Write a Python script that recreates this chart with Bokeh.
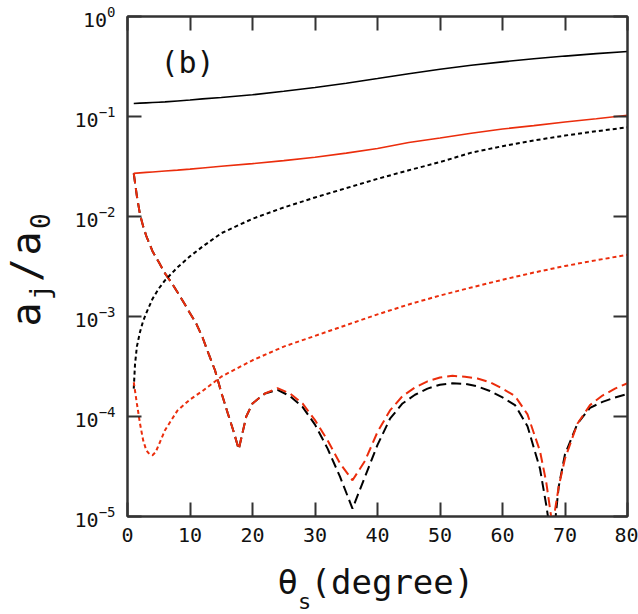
import math
from bokeh.plotting import figure
from bokeh.layouts import row, column
from bokeh.models import (Range1d, FixedTicker, LinearAxis, LogAxis, Label,
                          LogTickFormatter)
from bokeh.core.properties import value
from bokeh.embed import file_html
from bokeh.resources import INLINE

# ---------------- data ----------------
x_solid = [1, 2, 3, 4, 5, 6, 8, 10, 12, 15, 20, 25, 30, 35, 40, 45, 50, 55, 60, 65, 70, 75, 80]
black_solid = [0.135, 0.136, 0.137, 0.138, 0.139, 0.140, 0.143, 0.146, 0.150, 0.155, 0.165,
               0.179, 0.195, 0.215, 0.240, 0.268, 0.297, 0.325, 0.352, 0.378, 0.402, 0.425, 0.447]
red_solid = [0.0270, 0.0273, 0.0276, 0.0279, 0.0282, 0.0285, 0.0291, 0.0298, 0.0306, 0.0318,
             0.0338, 0.0362, 0.0392, 0.0430, 0.0478, 0.0550, 0.0610, 0.0680, 0.0750, 0.0810,
             0.0880, 0.0950, 0.1030]

x_black_dot = [1, 1.2, 1.5, 2, 2.5, 3, 4, 5, 6, 8, 10, 12, 15, 20, 25, 30, 35, 40, 45, 50,
               55, 60, 65, 70, 75, 80]
black_dot = [1.9e-4, 3.3e-4, 5.0e-4, 7.0e-4, 9.0e-4, 1.08e-3, 1.5e-3, 1.9e-3, 2.3e-3, 3.1e-3,
             4.0e-3, 5.0e-3, 6.8e-3, 9.5e-3, 0.0123, 0.0155, 0.0192, 0.0238, 0.0290, 0.0350,
             0.0435, 0.0505, 0.0575, 0.0645, 0.0712, 0.0780]

x_red_dot = [1, 1.5, 2, 2.5, 3, 3.5, 4, 4.5, 5, 6, 8, 10, 12, 15, 20, 25, 30, 35, 40, 45, 50,
             55, 60, 65, 70, 75, 80]
red_dot = [2.2e-4, 1.35e-4, 8.5e-5, 5.8e-5, 4.6e-5, 4.2e-5, 4.1e-5, 4.4e-5, 5.2e-5, 7.3e-5,
           1.15e-4, 1.48e-4, 1.8e-4, 2.5e-4, 3.65e-4, 5.0e-4, 6.4e-4, 8.2e-4, 1.05e-3, 1.32e-3,
           1.62e-3, 1.95e-3, 2.33e-3, 2.75e-3, 3.2e-3, 3.65e-3, 4.15e-3]

x_dash = [1, 1.5, 2, 2.5, 3, 4, 5, 6, 7, 8, 9, 10, 11, 12, 13, 14, 15, 16, 17, 17.8, 19, 20,
          22, 24, 26, 28, 30, 32, 34, 36, 38, 40, 42, 44, 46, 48, 50, 52, 54, 56, 58, 60, 62,
          64, 66, 67, 68, 69, 70, 72, 74, 76, 78, 80]
red_dash = [0.027, 0.016, 0.0105, 0.0080, 0.0064, 0.0045, 0.0035, 0.0027, 0.0022, 0.00175,
            0.00138, 0.00108, 8.5e-4, 6.2e-4, 4.2e-4, 2.9e-4, 1.75e-4, 1.1e-4, 7.0e-5, 4.7e-5,
            1.0e-4, 1.35e-4, 1.7e-4, 1.92e-4, 1.7e-4, 1.35e-4, 9.2e-5, 5.8e-5, 3.4e-5, 2.3e-5,
            3.6e-5, 7.0e-5, 1.15e-4, 1.6e-4, 1.95e-4, 2.25e-4, 2.45e-4, 2.55e-4, 2.5e-4, 2.4e-4,
            2.2e-4, 1.9e-4, 1.6e-4, 1.05e-4, 4.5e-5, 2.2e-5, 8.0e-6, 2.0e-5, 3.8e-5, 8.5e-5,
            1.3e-4, 1.62e-4, 1.9e-4, 2.15e-4]
black_dash = [0.027, 0.016, 0.0105, 0.0080, 0.0064, 0.0045, 0.0035, 0.0027, 0.0022, 0.00175,
              0.00138, 0.00108, 8.5e-4, 6.2e-4, 4.2e-4, 2.9e-4, 1.75e-4, 1.1e-4, 7.0e-5, 4.7e-5,
              1.0e-4, 1.35e-4, 1.7e-4, 1.85e-4, 1.6e-4, 1.25e-4, 8.3e-5, 4.8e-5, 2.5e-5, 1.2e-5,
              2.5e-5, 5.2e-5, 9.5e-5, 1.35e-4, 1.65e-4, 1.9e-4, 2.08e-4, 2.15e-4, 2.12e-4, 2.0e-4,
              1.8e-4, 1.55e-4, 1.3e-4, 8.0e-5, 3.0e-5, 1.3e-5, 5.0e-6, 2.0e-5, 4.2e-5, 8.5e-5,
              1.22e-4, 1.4e-4, 1.55e-4, 1.68e-4]

x_ticks = [0, 10, 20, 30, 40, 50, 60, 70, 80]
y_ticks = [1e-5, 1e-4, 1e-3, 1e-2, 1e-1, 1e0]

panel_label = "(b)"
x_title = ["θ", "s", "(degree)"]
y_title = ["a", "j", "/", "a", "0"]

# ---------------- styling ----------------
FONT = "DejaVu Sans Mono"
RED = "#eb2d0c"
AX = "#333333"
TXT = "#111111"
X0, X1, Y0, Y1 = 0.0, 80.0, 1e-5, 1.0
W, H = 638, 614
LEFT_W = 64          # strip holding the y title
MAIN_H = 560         # main figure height; the strip below holds the x title
BASE_SHIFT = 0.31    # measured offset of drawn baseline vs. anchor (fraction of font size)

p = figure(width=W - LEFT_W, height=MAIN_H, frame_width=500, frame_height=500,
           y_axis_type="log", output_backend="svg", toolbar_location=None, title=None,
           x_range=Range1d(X0, X1), y_range=Range1d(Y0, Y1),
           min_border_left=127 - LEFT_W, min_border_right=11, min_border_top=16,
           min_border_bottom=MAIN_H - 516)
p.grid.visible = False
p.outline_line_color = AX
p.outline_line_width = 2
p.background_fill_color = "white"
p.border_fill_color = "white"

def style_axis(ax, labels=True):
    ax.axis_line_color = AX
    ax.axis_line_width = 2
    ax.major_tick_line_color = AX
    ax.major_tick_line_width = 2
    ax.major_tick_in = 14
    ax.major_tick_out = 0
    ax.minor_tick_in = 0
    ax.minor_tick_out = 0
    ax.minor_tick_line_color = None
    ax.major_label_text_font = FONT
    if labels:
        ax.major_label_text_color = TXT
        ax.major_label_text_font_size = "20px"
    else:
        ax.major_label_text_color = None
        ax.major_label_text_font_size = "1px"
        ax.major_label_standoff = 0

xax = p.xaxis[0]
xax.ticker = FixedTicker(ticks=x_ticks, minor_ticks=[])
style_axis(xax)
xax.major_label_standoff = 11

yax = p.yaxis[0]
yax.ticker = FixedTicker(ticks=y_ticks, minor_ticks=[])
yax.formatter = LogTickFormatter()
style_axis(yax)
yax.major_label_standoff = 12

top = LinearAxis(ticker=FixedTicker(ticks=x_ticks, minor_ticks=[]))
style_axis(top, labels=False)
p.add_layout(top, "above")
right = LogAxis(ticker=FixedTicker(ticks=y_ticks, minor_ticks=[]))
style_axis(right, labels=False)
p.add_layout(right, "right")

# ---------------- curves ----------------
p.line(x_dash, black_dash, line_color="black", line_width=2, line_dash="10 5")
p.line(x_dash, red_dash, line_color=RED, line_width=2, line_dash="10 5")
p.line(x_black_dot, black_dot, line_color="black", line_width=2, line_dash="4 3")
p.line(x_red_dot, red_dot, line_color=RED, line_width=2, line_dash="4 3")
p.line(x_solid, black_solid, line_color="black", line_width=1.6)
p.line(x_solid, red_solid, line_color=RED, line_width=1.6)

# panel label inside the frame (position in px from frame bottom-left)
def frame_to_data(sx, sy):
    return (X0 + sx * (X1 - X0) / 500.0,
            10 ** (math.log10(Y0) + sy * (math.log10(Y1) - math.log10(Y0)) / 500.0))

bx, by = frame_to_data(33, 454)
p.add_layout(Label(text=panel_label, x=bx, y=by, text_font=FONT, text_font_size="30px",
                   text_color=TXT, text_align="left", text_baseline="alphabetic"))

# ---------------- title strips (pixel coordinate spaces) ----------------
def blank_fig(w, h):
    f = figure(width=w, height=h, frame_width=w, frame_height=h,
               x_range=Range1d(0, w), y_range=Range1d(0, h), title=None,
               output_backend="svg", toolbar_location=None,
               x_axis_location=None, y_axis_location=None,
               min_border=0, min_border_left=0, min_border_right=0,
               min_border_top=0, min_border_bottom=0)
    f.grid.visible = False
    f.outline_line_color = None
    f.background_fill_color = "white"
    f.border_fill_color = "white"
    return f

# bottom strip spans the full page width: x = page x, y measured up from page bottom
xf = blank_fig(W, H - MAIN_H)
BIGX, SMALLX = 34, 22
px_list = [277.0, 297.5, 310.0]          # left edge of each piece (page px)
base_list = [592.0, 608.0, 592.0]        # wanted baseline (page px)
sz_list = [BIGX, SMALLX, BIGX]
for t, pxv, pyv, sz in zip(x_title, px_list, base_list, sz_list):
    anchor_y = pyv - BASE_SHIFT * sz
    xf.text(x=[pxv], y=[H - anchor_y], text=[t], text_font=value(FONT),
            text_font_size=f"{sz}px", text_color=TXT, text_align="left",
            text_baseline="alphabetic")

# left strip: page x 0..LEFT_W, y measured up from the strip bottom (page y = MAIN_H)
yf = blank_fig(LEFT_W, MAIN_H)
BIGY, SMALLY = 40, 26
base_big, base_small = 38.0, 47.5       # wanted baseline (page x) of the rotated text
gap = 2.4
page_y = 310.0
for t in y_title:
    small = t in ("j", "0")
    sz = SMALLY if small else BIGY
    bxv = (base_small if small else base_big) - BASE_SHIFT * sz
    yf.text(x=[bxv], y=[MAIN_H - page_y], text=[t], text_font=value(FONT),
            text_font_size=f"{sz}px", text_color=TXT, text_align="left",
            text_baseline="alphabetic", angle=math.pi / 2)
    page_y -= 0.602 * sz + gap

layout = column(row(yf, p), xf)
open("out.html", "w").write(file_html(layout, INLINE))
